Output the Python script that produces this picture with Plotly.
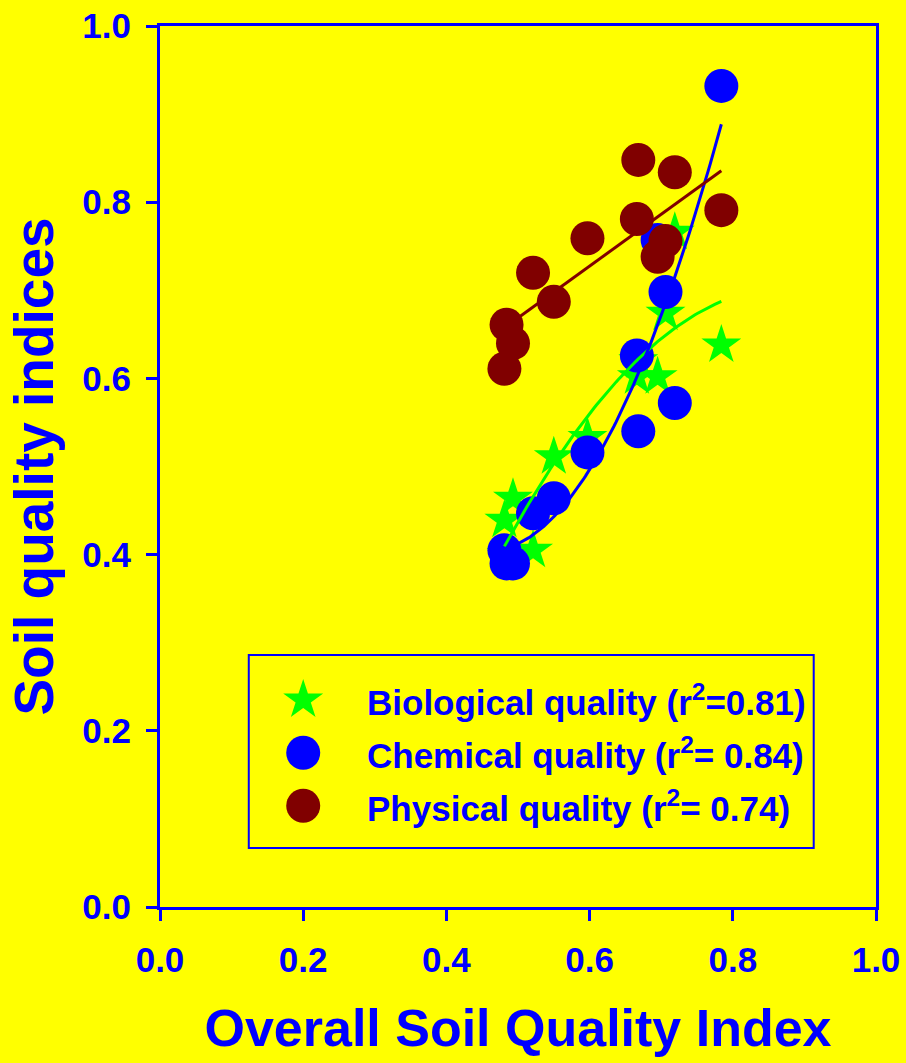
import numpy as np
import plotly.graph_objects as go

# Overall soil quality index (x) for each site
overall_sqi = [0.481, 0.484, 0.493, 0.521, 0.550, 0.597, 0.666, 0.668, 0.695, 0.706, 0.719, 0.784]

# Component indices at the same sites
biological = [0.439, 0.400, 0.464, 0.405, 0.511, 0.533, 0.602, 0.620, 0.602, 0.674, 0.766, 0.638]
chemical = [0.405, 0.390, 0.390, 0.447, 0.464, 0.516, 0.626, 0.540, 0.757, 0.698, 0.572, 0.932]
physical = [0.611, 0.661, 0.640, 0.720, 0.687, 0.759, 0.781, 0.848, 0.738, 0.756, 0.834, 0.791]

legend_labels = [
    "Biological quality (r<sup>2</sup>=0.81)",
    "Chemical quality (r<sup>2</sup>= 0.84)",
    "Physical quality (r<sup>2</sup>= 0.74)",
]

tick_vals = [0.0, 0.2, 0.4, 0.6, 0.8, 1.0]
tick_text = ["0.0", "0.2", "0.4", "0.6", "0.8", "1.0"]

BLUE = "#0000FF"
GREEN = "#00FF00"
MAROON = "#800000"
BG = "#FFFF00"
FONT = "Liberation Sans, Arial, sans-serif"

STAR_SIZE = 30
CIRCLE_SIZE = 34

x = np.array(overall_sqi)


def fit_curve(y, deg):
    coef = np.polyfit(x, np.array(y), deg)
    xs = np.linspace(x.min(), x.max(), 100)
    return xs, np.polyval(coef, xs)


fig = go.Figure()

# markers and regression curves, layered back to front
fig.add_trace(go.Scatter(x=overall_sqi, y=biological, mode="markers",
                         marker=dict(symbol="star", size=STAR_SIZE, color=GREEN, opacity=1,
                                     line=dict(width=0)),
                         showlegend=False))
fig.add_trace(go.Scatter(x=overall_sqi, y=chemical, mode="markers",
                         marker=dict(symbol="circle", size=CIRCLE_SIZE, color=BLUE, opacity=1,
                                     line=dict(width=0)),
                         showlegend=False))
gx, gy = fit_curve(biological, 2)
fig.add_trace(go.Scatter(x=gx, y=gy, mode="lines", line=dict(color=GREEN, width=3), showlegend=False))
bx, by = fit_curve(chemical, 2)
fig.add_trace(go.Scatter(x=bx, y=by, mode="lines", line=dict(color=BLUE, width=3), showlegend=False))
px_, py_ = fit_curve(physical, 1)
fig.add_trace(go.Scatter(x=px_, y=py_, mode="lines", line=dict(color=MAROON, width=3), showlegend=False))
fig.add_trace(go.Scatter(x=overall_sqi, y=physical, mode="markers",
                         marker=dict(symbol="circle", size=CIRCLE_SIZE, color=MAROON, opacity=1,
                                     line=dict(width=0)),
                         showlegend=False))

# legend box drawn inside the plot area
leg_x = 0.2
leg_y = [0.235, 0.175, 0.115]
leg_sym = ["star", "circle", "circle"]
leg_size = [STAR_SIZE, CIRCLE_SIZE, CIRCLE_SIZE]
leg_col = [GREEN, BLUE, MAROON]
fig.add_shape(type="rect", xref="x", yref="y", x0=0.124, x1=0.913, y0=0.067, y1=0.286,
              line=dict(color=BLUE, width=2), fillcolor=BG, layer="below")
fig.add_trace(go.Scatter(x=[leg_x] * 3, y=leg_y, mode="markers",
                         marker=dict(symbol=leg_sym, size=leg_size, color=leg_col, opacity=1,
                                     line=dict(width=0)),
                         showlegend=False, hoverinfo="skip"))
for yy, lab in zip(leg_y, legend_labels):
    fig.add_annotation(x=0.286, y=yy, xref="x", yref="y", text=lab, showarrow=False,
                       xanchor="left", yanchor="middle",
                       font=dict(family=FONT, size=35, color=BLUE, weight="bold"))

axis_common = dict(
    range=[0, 1], tickvals=tick_vals, ticktext=tick_text,
    showgrid=False, zeroline=False, automargin=False,
    showline=True, linecolor=BLUE, linewidth=3, mirror=True,
    ticks="outside", ticklen=11, tickwidth=3, tickcolor=BLUE,
    tickfont=dict(family=FONT, size=35, color=BLUE, weight="bold"),
)

fig.update_layout(
    width=906, height=1063,
    margin=dict(l=160, r=30, t=26, b=156),
    paper_bgcolor=BG, plot_bgcolor=BG,
    showlegend=False,
    xaxis=dict(**axis_common, ticklabelstandoff=9,
               title=dict(text="Overall Soil Quality Index", standoff=32,
                          font=dict(family=FONT, size=52, color=BLUE, weight="bold"))),
    yaxis=dict(**axis_common, ticklabelstandoff=8,
               title=dict(text="Soil quality indices", standoff=12,
                          font=dict(family=FONT, size=55, color=BLUE, weight="bold"))),
)

fig.write_html("out.html")
